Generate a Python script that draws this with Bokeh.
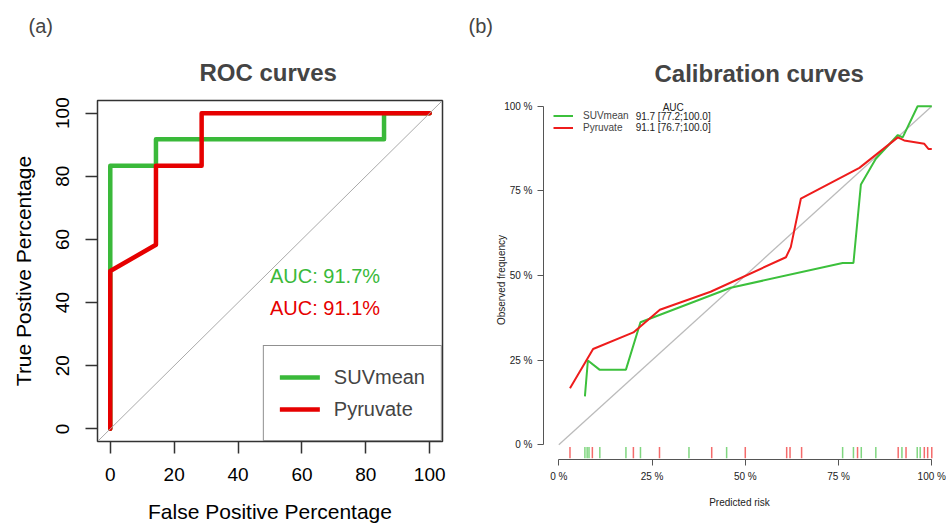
from bokeh.plotting import figure
from bokeh.layouts import row
from bokeh.models import Label, Legend, LegendItem, FixedTicker, Range1d, Slope, Title
from bokeh.embed import file_html
from bokeh.resources import INLINE

FONT = "Liberation Sans"

# ---------------- data: ROC curves (percent) ----------------
roc_names = ["SUVmean", "Pyruvate"]
suv_fpr = [0, 0, 14.3, 14.3, 85.7, 85.7, 100]
suv_tpr = [0, 83.3, 83.3, 91.7, 91.7, 100, 100]
pyr_fpr = [0, 0, 14.3, 14.3, 28.6, 28.6, 100]
pyr_tpr = [0, 50.0, 58.3, 83.3, 83.3, 100, 100]
auc_labels = ["AUC: 91.7%", "AUC: 91.1%"]
roc_ticks = [0, 20, 40, 60, 80, 100]

# ---------------- data: calibration curves (fractions) ----------------
suv_pred = [0.070, 0.078, 0.109, 0.180, 0.219, 0.461, 0.761, 0.790, 0.810, 0.850, 0.909, 0.922, 0.962, 1.000]
suv_obs = [0.143, 0.249, 0.222, 0.222, 0.362, 0.464, 0.537, 0.537, 0.769, 0.845, 0.915, 0.908, 1.000, 1.000]
pyr_pred = [0.030, 0.092, 0.200, 0.271, 0.407, 0.609, 0.622, 0.649, 0.806, 0.909, 0.926, 0.980, 0.991, 1.000]
pyr_obs = [0.167, 0.283, 0.332, 0.399, 0.452, 0.554, 0.584, 0.727, 0.818, 0.908, 0.899, 0.889, 0.874, 0.874]
ideal = [0, 1]
suv_rug = [0.070, 0.076, 0.081, 0.110, 0.180, 0.219, 0.349, 0.450, 0.761, 0.790, 0.811, 0.850, 0.920, 0.961, 0.969]
pyr_rug = [0.030, 0.090, 0.200, 0.270, 0.410, 0.500, 0.611, 0.620, 0.651, 0.801, 0.910, 0.931, 0.980, 0.989, 1.000]
cal_ticks = [0, 0.25, 0.5, 0.75, 1.0]
cal_tick_labels = ["0 %", "25 %", "50 %", "75 %", "100 %"]
cal_auc = ["91.7 [77.2;100.0]", "91.1 [76.7;100.0]"]

GREEN = "#3AB93A"
RED = "#E60000"
GREEN2 = "#3CC03C"
RED2 = "#EE1C1C"

# ================= panel (a) =================
p1 = figure(output_backend="svg", toolbar_location=None, title_location=None,
            frame_width=345, frame_height=341,
            min_border_left=97, min_border_right=18, min_border_top=96, min_border_bottom=88,
            x_range=Range1d(-4, 104), y_range=Range1d(-4, 104))
p1.grid.visible = False
p1.outline_line_color = "#333333"
p1.outline_line_width = 1.5
p1.background_fill_color = "white"
p1.border_fill_color = "white"

p1.add_layout(Slope(gradient=1, y_intercept=0, line_color="#AAAAAA", line_width=1))
g1 = p1.line(suv_fpr, suv_tpr, line_color=GREEN, line_width=4.5, line_cap="round", line_join="round")
r1 = p1.line(pyr_fpr, pyr_tpr, line_color=RED, line_width=4.5, line_cap="round", line_join="round")

for ax in (p1.xaxis[0], p1.yaxis[0]):
    ax.ticker = FixedTicker(ticks=roc_ticks)
    ax.axis_line_color = None
    ax.major_tick_out = 12
    ax.major_tick_in = 0
    ax.minor_tick_out = 0
    ax.minor_tick_in = 0
    ax.major_tick_line_color = "#333333"
    ax.major_tick_line_width = 1.5
    ax.major_label_text_font = FONT
    ax.major_label_text_font_size = "19px"
    ax.major_label_text_color = "black"
    ax.axis_label_text_font = FONT
    ax.axis_label_text_font_size = "21px"
    ax.axis_label_text_font_style = "normal"
    ax.axis_label_text_color = "black"
p1.xaxis.axis_label = "False Positive Percentage"
p1.xaxis.major_label_standoff = 14
p1.xaxis.axis_label_standoff = 16
p1.yaxis.axis_label = "True Postive Percentage"
p1.yaxis.major_label_standoff = 16
p1.yaxis.axis_label_standoff = 19
p1.yaxis.major_label_orientation = "vertical"

leg1 = Legend(items=[LegendItem(label=roc_names[0], renderers=[g1]),
                     LegendItem(label=roc_names[1], renderers=[r1])],
              location="bottom_right", margin=0, padding=16, spacing=2,
              glyph_width=40, glyph_height=30, label_height=30, label_standoff=14,
              label_text_font=FONT, label_text_font_size="20px",
              border_line_color="#222222", border_line_width=1.5,
              background_fill_color="white", background_fill_alpha=1)
p1.add_layout(leg1)

p1.add_layout(Label(x=50, y=48.5, text=auc_labels[0], text_color=GREEN, text_font=FONT,
                    text_font_size="20px", text_baseline="middle", text_align="left"))
p1.add_layout(Label(x=50, y=38.4, text=auc_labels[1], text_color=RED, text_font=FONT,
                    text_font_size="20px", text_baseline="middle", text_align="left"))
p1.add_layout(Title(text="ROC curves", align="left", offset=102, standoff=30, vertical_align="bottom",
                    text_font=FONT, text_font_size="24px", text_font_style="bold"), "above")
p1.add_layout(Title(text="(a)", align="left", offset=-69, standoff=10, vertical_align="bottom",
                    text_font=FONT, text_font_size="20px", text_font_style="normal"), "above")

# ================= panel (b) =================
p2 = figure(output_backend="svg", toolbar_location=None, title_location=None,
            frame_width=392, frame_height=359,
            min_border_left=83, min_border_right=11, min_border_top=100, min_border_bottom=66,
            x_range=Range1d(-0.041, 1.01), y_range=Range1d(-0.0434, 1.017))
p2.grid.visible = False
p2.outline_line_color = None
p2.background_fill_color = "white"
p2.border_fill_color = "white"

p2.line(ideal, ideal, line_color="#BBBBBB", line_width=1.3)
g2 = p2.line(suv_pred, suv_obs, line_color=GREEN2, line_width=2)
r2 = p2.line(pyr_pred, pyr_obs, line_color=RED2, line_width=2)
ymin = p2.y_range.start
p2.segment(x0=suv_rug, x1=suv_rug, y0=[ymin + 0.004] * len(suv_rug), y1=[ymin + 0.037] * len(suv_rug),
           line_color=GREEN2, line_alpha=0.65, line_width=1.5)
p2.segment(x0=pyr_rug, x1=pyr_rug, y0=[ymin + 0.004] * len(pyr_rug), y1=[ymin + 0.037] * len(pyr_rug),
           line_color=RED2, line_alpha=0.65, line_width=1.5)

for ax in (p2.xaxis[0], p2.yaxis[0]):
    ax.ticker = FixedTicker(ticks=cal_ticks)
    ax.major_label_overrides = {t: l for t, l in zip(cal_ticks, cal_tick_labels)}
    ax.bounds = (0, 1)
    ax.axis_line_color = "#555555"
    ax.axis_line_width = 1
    ax.major_tick_out = 6
    ax.major_tick_in = 0
    ax.minor_tick_out = 0
    ax.minor_tick_in = 0
    ax.major_tick_line_color = "#555555"
    ax.major_label_text_font = FONT
    ax.major_label_text_font_size = "10px"
    ax.major_label_text_color = "#222222"
    ax.major_label_standoff = 5
    ax.axis_label_text_font = FONT
    ax.axis_label_text_font_size = "10px"
    ax.axis_label_text_font_style = "normal"
    ax.axis_label_text_color = "#222222"
p2.xaxis.axis_label = "Predicted risk"
p2.xaxis.axis_label_standoff = 12
p2.yaxis.axis_label = "Observed frequency"
p2.yaxis.axis_label_standoff = -6

leg2 = Legend(items=[LegendItem(label=roc_names[0], renderers=[g2]),
                     LegendItem(label=roc_names[1], renderers=[r2])],
              location="top_left", margin=10, padding=0, spacing=1,
              glyph_width=20, glyph_height=11, label_height=11, label_standoff=10,
              label_text_font=FONT, label_text_font_size="10px",
              border_line_color=None, background_fill_alpha=0)
p2.add_layout(leg2)
p2.add_layout(Label(x=0.3067, y=0.997, text="AUC", text_font=FONT, text_font_size="10px",
                    text_align="center", text_baseline="middle", text_color="#222222"))
p2.add_layout(Label(x=0.206, y=0.9705, text=cal_auc[0], text_font=FONT, text_font_size="10px",
                    text_align="left", text_baseline="middle", text_color="#222222"))
p2.add_layout(Label(x=0.206, y=0.9362, text=cal_auc[1], text_font=FONT, text_font_size="10px",
                    text_align="left", text_baseline="middle", text_color="#222222"))
p2.add_layout(Title(text="Calibration curves", align="left", offset=111, standoff=27, vertical_align="bottom",
                    text_font=FONT, text_font_size="24px", text_font_style="bold"), "above")
p2.add_layout(Title(text="(b)", align="left", offset=-75, standoff=16, vertical_align="bottom",
                    text_font=FONT, text_font_size="20px", text_font_style="normal"), "above")

layout = row(p1, p2)
open("out.html", "w").write(file_html(layout, INLINE))
